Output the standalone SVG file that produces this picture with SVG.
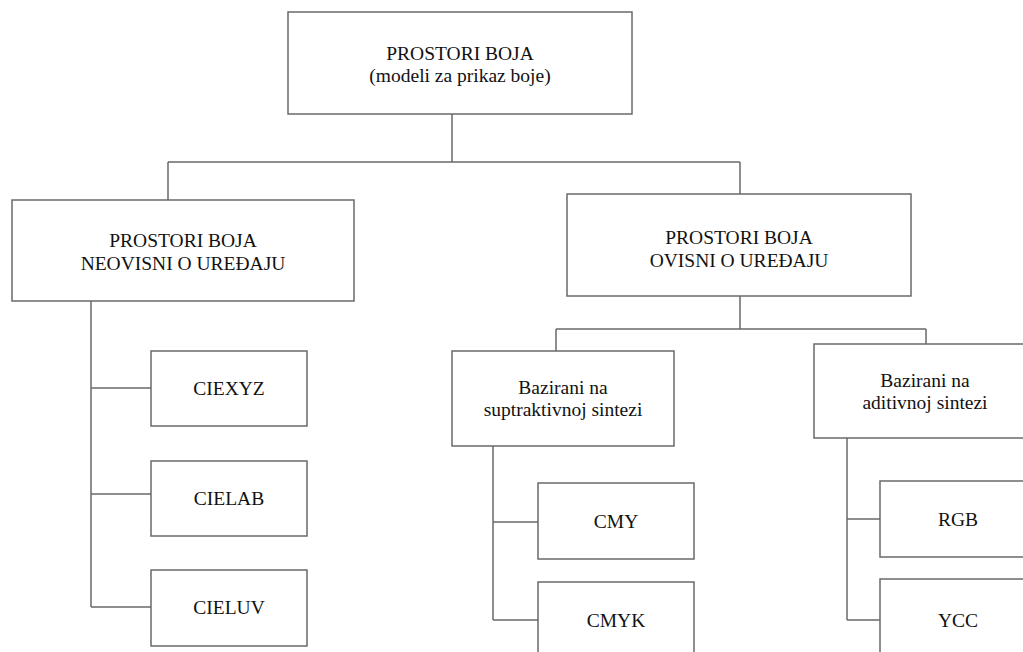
<svg xmlns="http://www.w3.org/2000/svg" width="1023" height="652" viewBox="0 0 1023 652">
<style>
.box{fill:#fff;stroke:#6a6a6a;stroke-width:1.5}
.lbl{font-size:19.5px;fill:#111;text-anchor:middle}
.con{fill:none;stroke:#6a6a6a;stroke-width:1.5}
</style>
<rect width="1023" height="652" fill="#fff"/>
<g id="connectors">
<path class="con" d="M452,114V162M168,162H740M168,162V200M740,162V194"/>
<path class="con" d="M740,296V329M556,329H926M556,329V351M926,329V344"/>
<path class="con" d="M91,301V607M91,388H151M91,494H151M91,607H151"/>
<path class="con" d="M493,446V620M493,522H538M493,620H538"/>
<path class="con" d="M847,438V620M847,519H880M847,620H880"/>
</g>
<g font-family="Liberation Serif, serif">
<g id="root"><rect class="box" x="288" y="12" width="344" height="102"/>
<text class="lbl" x="460" y="60">PROSTORI BOJA</text><text class="lbl" x="460" y="82">(modeli za prikaz boje)</text></g>
<g id="neovisni"><rect class="box" x="12" y="200" width="342" height="101"/>
<text class="lbl" x="183" y="247">PROSTORI BOJA</text><text class="lbl" x="183" y="270">NEOVISNI O UREĐAJU</text></g>
<g id="ovisni"><rect class="box" x="567" y="194" width="344" height="102"/>
<text class="lbl" x="739" y="244">PROSTORI BOJA</text><text class="lbl" x="739" y="267">OVISNI O UREĐAJU</text></g>
<g id="suptraktivni"><rect class="box" x="452" y="351" width="222" height="95"/>
<text class="lbl" x="563" y="394">Bazirani na</text><text class="lbl" x="563" y="416">suptraktivnoj sintezi</text></g>
<g id="aditivni"><rect class="box" x="814" y="344" width="222" height="94"/>
<text class="lbl" x="925" y="387">Bazirani na</text><text class="lbl" x="925" y="409">aditivnoj sintezi</text></g>
<g id="ciexyz"><rect class="box" x="151" y="351" width="156" height="75"/><text class="lbl" x="229" y="395">CIEXYZ</text></g>
<g id="cielab"><rect class="box" x="151" y="461" width="156" height="75"/><text class="lbl" x="229" y="505">CIELAB</text></g>
<g id="cieluv"><rect class="box" x="151" y="570" width="156" height="76"/><text class="lbl" x="229" y="614">CIELUV</text></g>
<g id="cmy"><rect class="box" x="538" y="483" width="156" height="76"/><text class="lbl" x="616" y="528">CMY</text></g>
<g id="cmyk"><rect class="box" x="538" y="582" width="156" height="76"/><text class="lbl" x="616" y="627">CMYK</text></g>
<g id="rgb"><rect class="box" x="880" y="481" width="156" height="76"/><text class="lbl" x="958" y="526">RGB</text></g>
<g id="ycc"><rect class="box" x="880" y="579" width="156" height="76"/><text class="lbl" x="958" y="627">YCC</text></g>
</g>
</svg>
